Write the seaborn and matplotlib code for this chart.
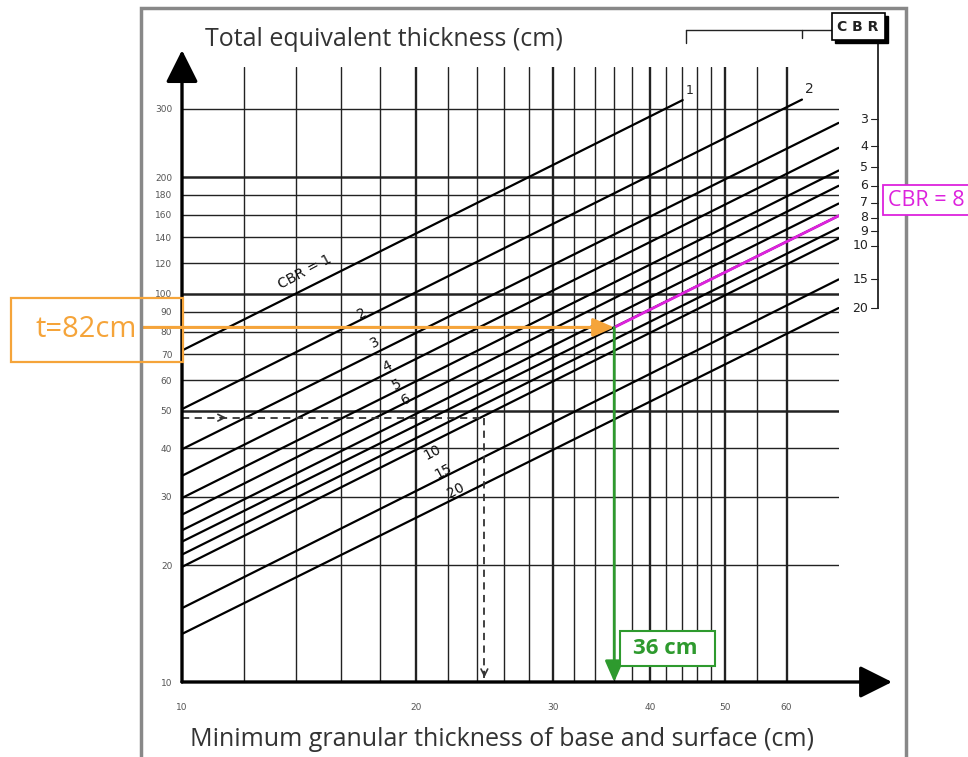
import numpy as np
import pandas as pd
import matplotlib
matplotlib.use('Agg')
import matplotlib.pyplot as plt
from matplotlib.patches import Rectangle
import seaborn as sns

# CBR lines: thickness at h=10 cm and end point
cbr = [1, 2, 3, 4, 5, 6, 7, 8, 9, 10, 15, 20]
t_at_10 = [71.5, 50.5, 39.8, 34.0, 29.8, 27.0, 24.6, 23.0, 21.3, 19.8, 15.5, 13.3]
h_end = [44.1, 62.8, 70, 70, 70, 70, 70, 70, 70, 70, 70, 70]
t_end = [316, 317, 276, 238, 208, 190, 171, 159, 148, 139, 109, 92]

# grid and ticks
grid_x = [12, 14, 16, 18, 20, 22, 24, 26, 28, 30, 32, 34, 36, 38, 40, 42, 44, 46, 48, 50, 55, 60]
grid_y = [20, 30, 40, 50, 60, 70, 80, 90, 100, 120, 140, 160, 180, 200, 300]
x_ticks = [10, 20, 30, 40, 50, 60]
y_ticks = [10, 20, 30, 40, 50, 60, 70, 80, 90, 100, 120, 140, 160, 180, 200, 300]

# worked example (t = 82 cm, CBR = 8 -> 36 cm) and the dashed example
t_total = 82
h_min = 36
cbr_sel = 8
dash_t = 48
dash_h = 24.5

# labels written along the lines
line_labels = ['CBR = 1', '2', '3', '4', '5', '6', '10', '15', '20']
label_h = [14.4, 17.05, 17.7, 18.35, 18.9, 19.4, 21.0, 21.7, 22.5]
label_t = [114, 89, 75, 65, 58.5, 53.5, 39, 35, 31.2]

# CBR scale on the right side
scale_labels = [3, 4, 5, 6, 7, 8, 9, 10, 15, 20]
scale_t = [282, 240, 212, 190, 172, 157, 145, 133, 109, 92]

ORANGE = '#F5A43A'
GREEN = '#2E9A2E'
MAGENTA = '#DD22DD'

W, H = 968, 757


def fp(x, y):
    return x / W, 1 - y / H


sns.set_style('white')
plt.rcParams['font.family'] = ['DejaVu Sans']

fig = plt.figure(figsize=(W / 100, H / 100), dpi=100)
ax = fig.add_axes([182 / W, (H - 682) / H, 656.6 / W, 615.2 / H])

rows = []
for c, t0, he, te in zip(cbr, t_at_10, h_end, t_end):
    rows.append({'cbr': c, 'h': 10, 't': t0})
    rows.append({'cbr': c, 'h': he, 't': te})
df = pd.DataFrame(rows)

# grid
for g in grid_x:
    ax.axvline(g, color='#222222', lw=1.7 if g % 10 == 0 else 1.0, zorder=1)
for g in grid_y:
    ax.hlines(g, 10, 70, color='#222222', lw=1.8 if g in (50, 100, 200) else 1.0, zorder=1)

sns.lineplot(data=df, x='h', y='t', units='cbr', estimator=None, sort=False,
             color='black', lw=1.6, ax=ax, legend=False, zorder=3)

ax.set_xscale('log')
ax.set_yscale('log')
ax.set_xlim(10, 70)
ax.set_ylim(10, 385)
ax.minorticks_off()
ax.set_xticks(x_ticks)
ax.set_xticklabels([str(v) for v in x_ticks])
ax.set_yticks(y_ticks)
ax.set_yticklabels([str(v) for v in y_ticks])
ax.tick_params(axis='x', length=0, pad=15, labelsize=6.5, colors='#555555')
ax.tick_params(axis='y', length=0, pad=7, labelsize=6.5, colors='#555555')
ax.set_xlabel('')
ax.set_ylabel('')
for s in ax.spines.values():
    s.set_visible(False)

# axes with arrow heads
arr = dict(arrowstyle='-|>,head_length=0.9,head_width=0.45', lw=2.4, color='black',
           mutation_scale=22, shrinkA=0, shrinkB=0)
ax.annotate('', xy=(82, 10), xytext=(10, 10), arrowprops=arr, annotation_clip=False, zorder=5)
ax.annotate('', xy=(10, 425), xytext=(10, 10), arrowprops=arr, annotation_clip=False, zorder=5)

# labels along the lines
for txt, lx, ly in zip(line_labels, label_h, label_t):
    ax.text(lx, ly, txt, rotation=28, ha='center', va='center', fontsize=10,
            color='#111111', zorder=4)
ax.text(h_end[0] * 1.01, t_end[0] * 1.02, '1', ha='left', va='bottom', fontsize=9)
ax.text(h_end[1] * 1.01, t_end[1] * 1.02, '2', ha='left', va='bottom', fontsize=10)

# CBR scale on the right
sx = 78.7
for v, st in zip(scale_labels, scale_t):
    ax.text(76.4, st, str(v), ha='right', va='center', fontsize=9, color='#222222')
    ax.plot([77.0, sx], [st, st], color='#222222', lw=0.8, clip_on=False)
ax.plot([sx, sx], [scale_t[-1], 452], color='#222222', lw=1.3, clip_on=False)
ax.plot([h_end[0] * 1.01, 74.5], [480, 480], color='#222222', lw=1.0, clip_on=False)
ax.plot([h_end[0] * 1.01, h_end[0] * 1.01], [480, 444], color='#222222', lw=1.0, clip_on=False)
ax.plot([h_end[1], h_end[1]], [480, 458], color='#222222', lw=1.0, clip_on=False)

fig.add_artist(Rectangle(fp(835, 43), 53 / W, 27 / H, transform=fig.transFigure,
                         facecolor='black', edgecolor='black', lw=1))
fig.add_artist(Rectangle(fp(832, 40), 53 / W, 27 / H, transform=fig.transFigure,
                         facecolor='white', edgecolor='black', lw=1.2))
fig.text(*fp(858, 27), 'C B R', ha='center', va='center', fontsize=10,
         fontweight='bold', color='#222222')

# dashed example
dash = (0, (4, 3))
ax.plot([10, dash_h], [dash_t, dash_t], color='#333333', lw=1.3, ls=dash, zorder=4)
ax.plot([dash_h, dash_h], [dash_t, 10.2], color='#333333', lw=1.3, ls=dash, zorder=4)
ax.annotate('', xy=(11.5, dash_t), xytext=(11.1, dash_t),
            arrowprops=dict(arrowstyle='->', lw=1.2, color='#333333', mutation_scale=12), zorder=4)
ax.annotate('', xy=(dash_h, 10.1), xytext=(dash_h, 10.8),
            arrowprops=dict(arrowstyle='->', lw=1.2, color='#333333', mutation_scale=12), zorder=4)

# worked example
sel = cbr.index(cbr_sel)
ax.plot([h_min, h_end[sel]], [t_total, t_end[sel]], color=MAGENTA, lw=2.0, zorder=6)
ax.annotate('', xy=(h_min, t_total), xytext=(8.9, t_total),
            arrowprops=dict(arrowstyle='-|>,head_length=0.8,head_width=0.35', lw=2.2,
                            color=ORANGE, mutation_scale=16, shrinkA=0, shrinkB=0),
            annotation_clip=False, zorder=7)
ax.annotate('', xy=(h_min, 10), xytext=(h_min, t_total),
            arrowprops=dict(arrowstyle='-|>,head_length=0.8,head_width=0.35', lw=2.0,
                            color=GREEN, mutation_scale=16, shrinkA=0, shrinkB=0),
            annotation_clip=False, zorder=7)

fig.add_artist(Rectangle(fp(11, 362), 172 / W, 64 / H, transform=fig.transFigure,
                         facecolor='none', edgecolor=ORANGE, lw=1.6, zorder=8))
fig.text(*fp(86, 330), f't={t_total}cm', ha='center', va='center', fontsize=21,
         family='Open Sans', color=ORANGE)

fig.add_artist(Rectangle(fp(620, 666), 95 / W, 35 / H, transform=fig.transFigure,
                         facecolor='white', edgecolor=GREEN, lw=1.5, zorder=8))
fig.text(*fp(665, 648), f'{h_min} cm', ha='center', va='center', fontsize=16,
         fontweight='bold', family='Open Sans', color=GREEN, zorder=9)

fig.add_artist(Rectangle(fp(883, 215), 100 / W, 30 / H, transform=fig.transFigure,
                         facecolor='white', edgecolor=MAGENTA, lw=1.3, zorder=8))
fig.text(*fp(888, 201), f'CBR = {cbr_sel}', ha='left', va='center', fontsize=15.5,
         family='Open Sans', color=MAGENTA, zorder=9)

# titles
fig.text(*fp(205, 40), 'Total equivalent thickness (cm)', ha='left', va='center',
         fontsize=18, family='Open Sans', color='#333333')
fig.text(*fp(190, 740), 'Minimum granular thickness of base and surface (cm)', ha='left',
         va='center', fontsize=18, family='Open Sans', color='#333333')

# outer frame
fig.add_artist(Rectangle(fp(141, 800), 765 / W, 792 / H, transform=fig.transFigure,
                         facecolor='none', edgecolor='#888888', lw=2.5))

fig.savefig('out.png', dpi=100)
